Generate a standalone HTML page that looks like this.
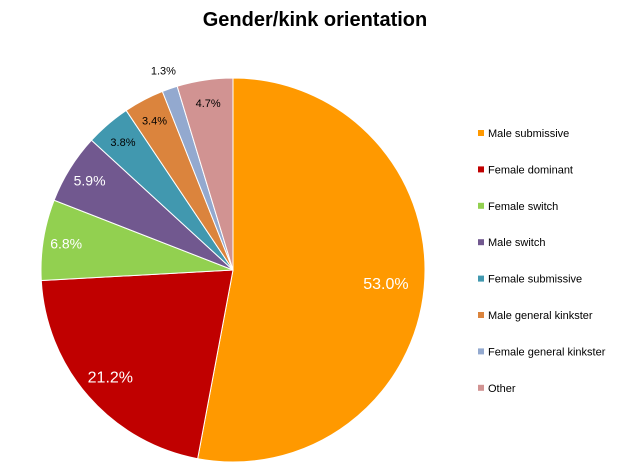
<!DOCTYPE html>
<html><head><meta charset="utf-8"><style>
body{margin:0;background:#fff;}
svg{display:block;font-family:"Liberation Sans",Arial,sans-serif;}
</style></head><body>
<svg id="chart" width="631" height="475">
<text x="315" y="26" text-anchor="middle" font-size="20" font-weight="bold">Gender/kink orientation</text>
<g id="slices"></g><g id="labels"></g><g id="legend"></g>
</svg>
<script>
const categories=["Male submissive","Female dominant","Female switch","Male switch","Female submissive","Male general kinkster","Female general kinkster","Other"];
const values=[53.0,21.2,6.8,5.9,3.8,3.4,1.3,4.7];
const colors=["#FF9900","#C00000","#92D050","#71588F","#4198AF","#DB843D","#93A9CF","#D19392"];
const cx=233,cy=270,r=192;
const ns="http://www.w3.org/2000/svg";
const total=values.reduce((a,b)=>a+b,0);
let ang=-Math.PI/2;
const gS=document.getElementById('slices'),gL=document.getElementById('labels'),gG=document.getElementById('legend');
values.forEach((v,i)=>{
  const a0=ang,a1=ang+v/total*2*Math.PI;ang=a1;
  const x0=cx+r*Math.cos(a0),y0=cy+r*Math.sin(a0),x1=cx+r*Math.cos(a1),y1=cy+r*Math.sin(a1);
  const p=document.createElementNS(ns,'path');
  p.setAttribute('d',`M${cx},${cy}L${x0},${y0}A${r},${r} 0 ${a1-a0>Math.PI?1:0} 1 ${x1},${y1}Z`);
  p.setAttribute('fill',colors[i]);p.setAttribute('stroke','#fff');p.setAttribute('stroke-width','1');
  
  
  gS.appendChild(p);
  const m=(a0+a1)/2;
  const small=v<5;
  const f=v<2?1.1:(v>40?0.8:(v>15?0.85:0.88));
  const t=document.createElementNS(ns,'text');
  t.setAttribute('x',cx+r*f*Math.cos(m));t.setAttribute('y',cy+r*f*Math.sin(m)+(small?4:5));
  t.setAttribute('text-anchor','middle');
  t.setAttribute('font-size',small?11:(v>15?16:14));
  t.setAttribute('fill',small?'#000':'#fff');
  t.textContent=v.toFixed(1)+'%';
  
  
  gL.appendChild(t);
  const ly=133+i*36.4;
  const sq=document.createElementNS(ns,'rect');
  sq.setAttribute('x',478);sq.setAttribute('y',ly-3);sq.setAttribute('width',6);sq.setAttribute('height',6);sq.setAttribute('fill',colors[i]);
  
  
  gG.appendChild(sq);
  const lt=document.createElementNS(ns,'text');
  lt.setAttribute('x',488);lt.setAttribute('y',ly+4);lt.setAttribute('font-size',11);
  lt.textContent=categories[i];
  
  
  gG.appendChild(lt);
});
</script>
</body></html>
